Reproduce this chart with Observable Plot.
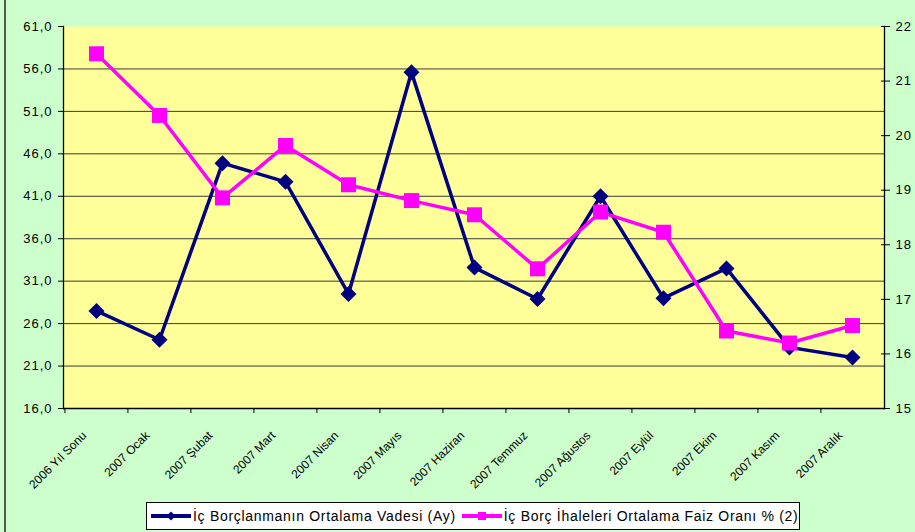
<!DOCTYPE html>
<html>
<head>
<meta charset="utf-8">
<script src="https://cdn.jsdelivr.net/npm/d3@7"></script>
<script src="https://cdn.jsdelivr.net/npm/@observablehq/plot@0.6"></script>
<style>
  body { margin: 0; background: #CCFFCC; }
  #wrap { position: relative; width: 915px; height: 532px; overflow: hidden; background: #CCFFCC; font-family: "Liberation Sans", Arial, sans-serif; }
  #edge { position: absolute; left: 4px; top: 0; width: 2px; height: 532px; background: #555; }
  #chart svg { display: block; }
  #chart [aria-label="y-axis tick label"] text { letter-spacing: 1px; }
  #legend { margin-left: 146px; margin-top: 2px; width: 654px; height: 28px; box-sizing: border-box; border: 1px solid #000; background: #fff; display: flex; align-items: center; padding-left: 3px; font-size: 14px; letter-spacing: 0.7px; color: #000; white-space: nowrap; }
  #legend .sw { display: block; flex: none; }
  #legend .item { display: flex; align-items: center; }
</style>
</head>
<body>
<div id="wrap">
  <div id="chart"></div>
  <div id="legend"></div>
  <div id="edge"></div>
</div>
<script>
const categories = ["2006 Yıl Sonu", "2007 Ocak", "2007 Şubat", "2007 Mart", "2007 Nisan", "2007 Mayıs", "2007 Haziran", "2007 Temmuz", "2007 Ağustos", "2007 Eylül", "2007 Ekim", "2007 Kasım", "2007 Aralık"];
const vade = [27.5, 24.1, 44.9, 42.7, 29.5, 55.6, 32.6, 28.9, 41.0, 29.0, 32.5, 23.2, 22.0];
const faiz = [21.5, 20.37, 18.86, 19.82, 19.1, 18.81, 18.55, 17.56, 18.6, 18.23, 16.42, 16.2, 16.52];
const leftTicks = [16, 21, 26, 31, 36, 41, 46, 51, 56, 61];
const rightTicks = [15, 16, 17, 18, 19, 20, 21, 22];
const seriesNames = ["İç Borçlanmanın Ortalama Vadesi (Ay)", "İç Borç İhaleleri Ortalama Faiz Oranı % (2)"];
const seriesColors = ["#000080", "#FF00FF"];

const leftDomain = [leftTicks[0], leftTicks[leftTicks.length - 1]];
const rightDomain = [rightTicks[0], rightTicks[rightTicks.length - 1]];
const k = (leftDomain[1] - leftDomain[0]) / (rightDomain[1] - rightDomain[0]);
const toLeft = v => leftDomain[0] + (v - rightDomain[0]) * k;
const fromLeft = v => rightDomain[0] + (v - leftDomain[0]) / k;

const rows = categories.map((c, i) => ({cat: c, vade: vade[i], faiz: faiz[i]}));

const W = 915, H = 500, mL = 63, mR = 31, mT = 26, mB = 92;
const step = (W - mL - mR) / categories.length;

const diamond = {draw(ctx, size) { const r = Math.sqrt(size / Math.PI); ctx.moveTo(0, -r); ctx.lineTo(r, 0); ctx.lineTo(0, r); ctx.lineTo(-r, 0); ctx.closePath(); }};
const square = {draw(ctx, size) { const r = Math.sqrt(size / Math.PI); ctx.rect(-r, -r, 2 * r, 2 * r); }};

const chart = Plot.plot({
  width: W, height: H,
  marginLeft: mL, marginRight: mR, marginTop: mT, marginBottom: mB,
  style: {background: "transparent", fontFamily: "'Liberation Sans', Arial, sans-serif", fontSize: "13px", color: "#000", overflow: "visible"},
  x: {type: "point", domain: categories, padding: 0.5},
  y: {domain: leftDomain},
  marks: [
    Plot.frame({fill: "#FFFF99", stroke: null}),
    Plot.ruleY(leftTicks.slice(1, -1), {stroke: "#3a3a3a", strokeWidth: 1}),
    Plot.frame({anchor: "left", stroke: "#000", strokeWidth: 1.3}),
    Plot.frame({anchor: "right", stroke: "#000", strokeWidth: 1.3}),
    Plot.frame({anchor: "bottom", stroke: "#000", strokeWidth: 1.3}),
    Plot.axisY({ticks: leftTicks, tickFormat: d => d.toFixed(1).replace(".", ","), tickSize: 5, tickPadding: 6, label: null, fontSize: 13}),
    Plot.axisY(rightTicks.map(toLeft), {anchor: "right", tickFormat: d => String(Math.round(fromLeft(d))), tickSize: 9, tickPadding: 6, dx: -4, label: null, fontSize: 13}),
    Plot.axisX({tickSize: 5, tickFormat: () => "", dx: -step / 2, label: null}),
    Plot.axisX({tickSize: 0, tickRotate: -45, tickPadding: 25, dx: -12, label: null, fontSize: 12}),
    Plot.line(rows, {x: "cat", y: "vade", stroke: seriesColors[0], strokeWidth: 3.5}),
    Plot.dot(rows, {x: "cat", y: "vade", symbol: diamond, r: 8, fill: seriesColors[0]}),
    Plot.line(rows, {x: "cat", y: d => toLeft(d.faiz), stroke: seriesColors[1], strokeWidth: 3.5}),
    Plot.dot(rows, {x: "cat", y: d => toLeft(d.faiz), symbol: square, r: 7.5, fill: seriesColors[1]})
  ]
});
document.getElementById("chart").appendChild(chart);

const legend = document.getElementById("legend");
seriesNames.forEach((name, i) => {
  const item = document.createElement("div");
  item.className = "item";
  if (i > 0) item.style.marginLeft = "5px";
  const marker = i === 0
    ? `<path d="M21,2.5 L25.5,7 L21,11.5 L16.5,7 Z" fill="${seriesColors[i]}"/>`
    : `<rect x="17" y="3" width="8" height="8" fill="${seriesColors[i]}"/>`;
  item.innerHTML = `<svg class="sw" width="42" height="14"><line x1="1" y1="7" x2="41" y2="7" stroke="${seriesColors[i]}" stroke-width="4"/>${marker}</svg><span style="margin-left:1px">${name}</span>`;
  legend.appendChild(item);
});
</script>
</body>
</html>
